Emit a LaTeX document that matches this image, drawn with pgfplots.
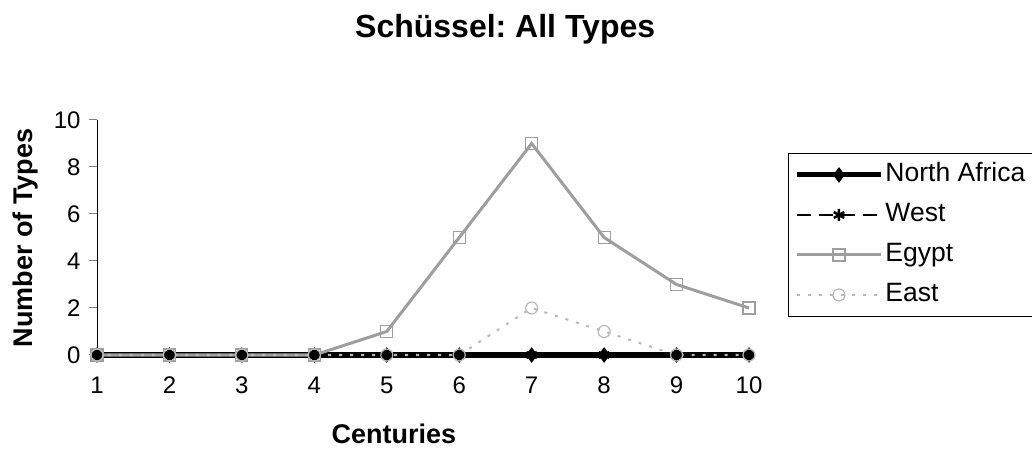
\documentclass[border=0pt]{standalone}
\usepackage{fontspec}
\setmainfont{Liberation Sans}
\usepackage{pgfplots}
\usepackage{pgfplotstable}
\pgfplotsset{compat=1.18}

\pgfplotstableread{
century NAfrica West Egypt East
1  0 0 0 0
2  0 0 0 0
3  0 0 0 0
4  0 0 0 0
5  0 0 1 0
6  0 0 5 0
7  0 0 9 2
8  0 0 5 1
9  0 0 3 0
10 0 0 2 0
}\schuessel

\definecolor{egyptgray}{gray}{0.62}
\definecolor{eastgray}{gray}{0.72}

\begin{document}
\frenchspacing
\begin{tikzpicture}
\path[use as bounding box] (0,0) rectangle (1032bp,450bp);
\begin{axis}[
  at={(97bp,95bp)}, anchor=south west,
  scale only axis, width=652bp, height=235bp,
  xmin=1, xmax=10, ymin=0, ymax=10,
  axis x line*=bottom, axis y line*=left,
  x axis line style={draw=none},
  y axis line style={line width=1bp},
  xtick={1,...,10}, ytick={0,2,...,10},
  tick align=outside, major tick length=8bp,
  xtick style={draw=none},
  ytick style={line width=1bp},
  /pgf/number format/assume math mode=true,
  tick label style={font=\fontsize{24bp}{28bp}\selectfont},
  yticklabel style={xshift=-5bp},
  xticklabel style={yshift=-10bp},
  clip=false,
  every axis title shift=0pt,
  title={Schüssel: All Types},
  title style={at={(0.626,1.353)}, anchor=base, font=\bfseries\fontsize{32bp}{36bp}\selectfont},
  xlabel={Centuries},
  xlabel style={at={(0.4555,-0.3787)}, anchor=base, font=\bfseries\fontsize{27bp}{30bp}\selectfont},
  ylabel={Number of Types},
  ylabel style={at={(-0.110,0.498)}, anchor=center, rotate=0, font=\bfseries\fontsize{27bp}{30bp}\selectfont},
  legend style={at={(1.0598,0.8596)}, anchor=north west, draw=black, line width=1bp,
    inner xsep=6bp, inner ysep=6.5bp, row sep=10bp,
    nodes={inner sep=2bp, text height=20bp, text depth=6bp,
      font=\fontsize{26.5bp}{30bp}\selectfont}},
  legend cell align=left,
  legend image code/.code={%
    \draw[mark repeat=2,mark phase=2,#1] plot coordinates {(0bp,0bp) (42bp,0bp) (84bp,0bp)};},
]
\addplot[black, line width=5bp, mark=diamond*, mark size=7bp,
  mark options={solid, line width=1bp}] table[x=century, y=NAfrica] {\schuessel};
\addlegendentry{North Africa}
\addplot[black, line width=2.5bp, dash pattern=on 14bp off 8bp, mark=asterisk, mark size=6bp,
  mark options={solid, line width=2.5bp}] table[x=century, y=West] {\schuessel};
\addlegendentry{West}
\addplot[egyptgray, line width=3bp, mark=square, mark size=6bp,
  mark options={solid, line width=1.2bp}] table[x=century, y=Egypt] {\schuessel};
\addlegendentry{Egypt}
\addplot[eastgray, line width=2bp, dash pattern=on 3bp off 8bp, mark=o, mark size=6bp,
  mark options={solid, line width=1.2bp}] table[x=century, y=East] {\schuessel};
\addlegendentry{East}
\end{axis}
\end{tikzpicture}
\end{document}
